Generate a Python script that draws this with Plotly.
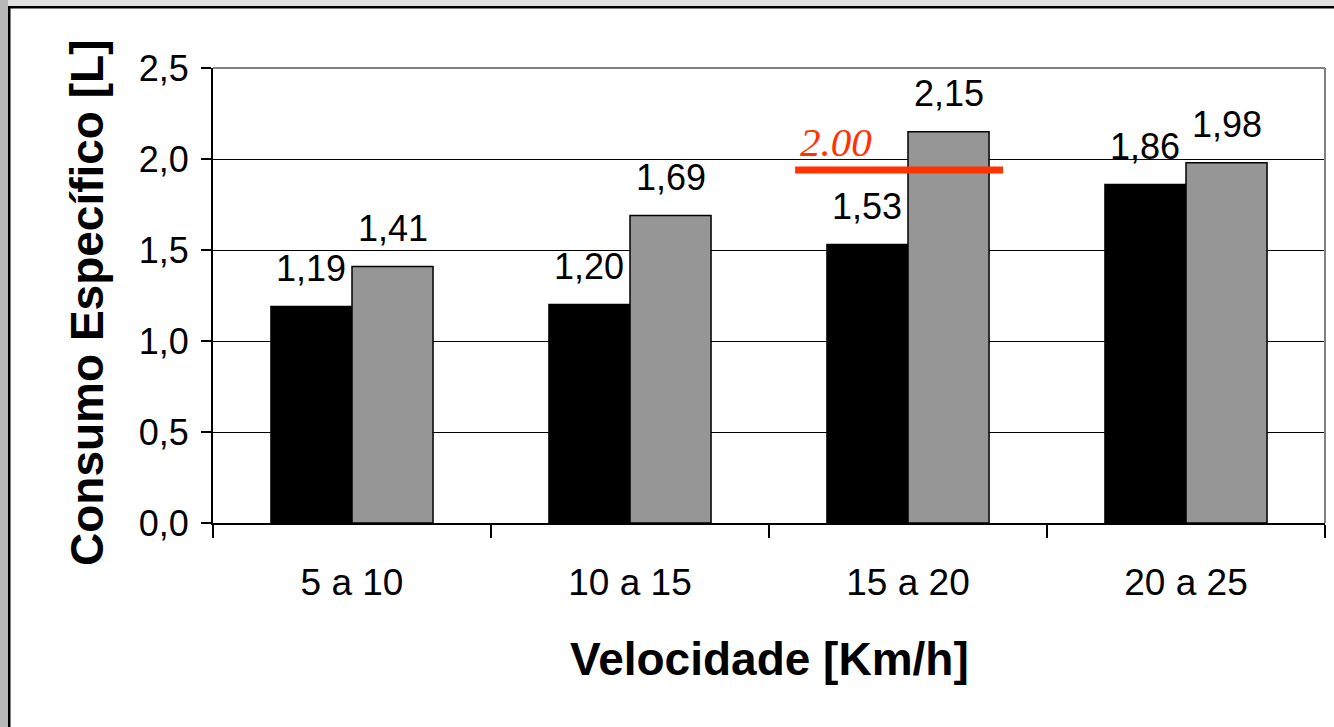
import plotly.graph_objects as go

categories = ["5 a 10", "10 a 15", "15 a 20", "20 a 25"]
serie_preta = [1.19, 1.20, 1.53, 1.86]
serie_cinza = [1.41, 1.69, 2.15, 1.98]
y_ticks = [0.0, 0.5, 1.0, 1.5, 2.0, 2.5]
ref_label = "2.00"
ref_level = 1.94

FONT = "Arial, 'Liberation Sans', sans-serif"
SERIF = "'Times New Roman', 'Liberation Serif', serif"

W, H = 1334, 727
ML, MR, MT, MB = 213, 9, 68, 204
PW, PH = W - ML - MR, H - MT - MB

def px_x(p):
    return (p - ML) / PW

def px_y(p):
    return (H - MB - p) / PH

bargap = 0.417
bw = (1 - bargap) / 2

fig = go.Figure()
fig.add_trace(go.Bar(x=categories, y=serie_preta, marker=dict(color="#000000", line=dict(color="#000000", width=1.5)), showlegend=False))
fig.add_trace(go.Bar(x=categories, y=serie_cinza, marker=dict(color="#969696", line=dict(color="#000000", width=1.5)), showlegend=False))

ann = []
for i, (a, b) in enumerate(zip(serie_preta, serie_cinza)):
    for v, off in ((a, -bw / 2), (b, bw / 2)):
        ann.append(dict(x=i + off, y=v, xref="x", yref="y", text=f"{v:.2f}".replace(".", ","),
                        showarrow=False, xanchor="center", yanchor="middle", yshift=38,
                        font=dict(family=FONT, size=36, color="#000000")))

ann.append(dict(x=1.741, y=ref_level, xref="x", yref="y", text=f"<i>{ref_label}</i>", showarrow=False,
                xanchor="center", yanchor="middle", yshift=28, font=dict(family=SERIF, size=41, color="#ff3300")))

ann.append(dict(x=0.5, y=px_y(659), xref="paper", yref="paper", text="<b>Velocidade [Km/h]</b>",
                showarrow=False, xanchor="center", yanchor="middle",
                font=dict(family=FONT, size=46, color="#000000")))
ann.append(dict(x=px_x(87), y=px_y(303), xref="paper", yref="paper", text="<b>Consumo Específico [L]</b>",
                showarrow=False, textangle=-90, xanchor="center", yanchor="middle",
                font=dict(family=FONT, size=46, color="#000000")))

shapes = [
    dict(type="line", xref="x", yref="y", x0=1.594, x1=2.342, y0=ref_level, y1=ref_level,
         line=dict(color="#ff3300", width=7), layer="above"),
    dict(type="line", xref="paper", yref="paper", x0=0, x1=1, y0=1, y1=1,
         line=dict(color="#808080", width=2), layer="above"),
    dict(type="line", xref="paper", yref="paper", x0=1, x1=1, y0=1, y1=0,
         line=dict(color="#808080", width=2), layer="above"),
    dict(type="rect", xref="paper", yref="paper", x0=px_x(0), x1=px_x(W), y0=px_y(0), y1=px_y(6),
         line=dict(width=0), fillcolor="#e0e0e0", layer="above"),
    dict(type="rect", xref="paper", yref="paper", x0=px_x(0), x1=px_x(8), y0=px_y(0), y1=px_y(H),
         line=dict(width=0), fillcolor="#b8b8b8", layer="above"),
    dict(type="rect", xref="paper", yref="paper", x0=px_x(8), x1=px_x(W), y0=px_y(6), y1=px_y(8.5),
         line=dict(width=0), fillcolor="#000000", layer="above"),
    dict(type="rect", xref="paper", yref="paper", x0=px_x(8), x1=px_x(10.5), y0=px_y(6), y1=px_y(H),
         line=dict(width=0), fillcolor="#000000", layer="above"),
]

fig.update_layout(
    width=W, height=H,
    margin=dict(l=ML, r=MR, t=MT, b=MB, pad=0),
    paper_bgcolor="#ffffff", plot_bgcolor="#ffffff",
    barmode="group", bargap=bargap, bargroupgap=0,
    separators=",.",
    font=dict(family=FONT, size=36, color="#000000"),
    annotations=ann, shapes=shapes,
    xaxis=dict(showline=True, linecolor="#000000", linewidth=2, ticks="outside", tickson="boundaries",
               ticklen=13, tickwidth=2, tickcolor="#000000", showgrid=False,
               tickfont=dict(family=FONT, size=37, color="#000000"), ticklabelstandoff=26),
    yaxis=dict(range=[0, 2.5], tickvals=y_ticks, tickformat=".1f", showline=True, linecolor="#000000",
               linewidth=2, ticks="outside", ticklen=10, tickwidth=2, tickcolor="#000000",
               showgrid=True, gridcolor="#000000", gridwidth=1.2, zeroline=False,
               tickfont=dict(family=FONT, size=36, color="#000000"), ticklabelstandoff=5),
)

fig.write_html("out.html")
